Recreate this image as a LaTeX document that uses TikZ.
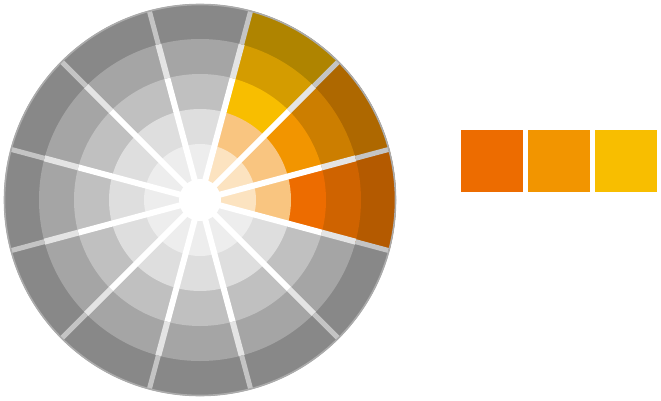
\documentclass[tikz,border=0pt]{standalone}
\usetikzlibrary{calc}
\definecolor{gA}{HTML}{EDEDED}
\definecolor{gB}{HTML}{DEDEDE}
\definecolor{gC}{HTML}{C0C0C0}
\definecolor{gD}{HTML}{A5A5A5}
\definecolor{gE}{HTML}{888888}
\definecolor{pA}{HTML}{FCE3C0}
\definecolor{pB}{HTML}{F9C580}
\definecolor{oC}{HTML}{ED6C00}
\definecolor{oD}{HTML}{CF6300}
\definecolor{oE}{HTML}{B45A00}
\definecolor{mC}{HTML}{F29500}
\definecolor{mD}{HTML}{CC7E00}
\definecolor{mE}{HTML}{AE6800}
\definecolor{yC}{HTML}{F8BE00}
\definecolor{yD}{HTML}{D49C00}
\definecolor{yE}{HTML}{AF8400}
\definecolor{sepB}{HTML}{E4E4E4}
\definecolor{sepC}{HTML}{C4C4C4}
\definecolor{rimc}{HTML}{ABABAB}
\tikzset{
  sepwhite/.style={draw=white,line width=6pt},
  sepmid/.style={draw=sepB,line width=6pt},
  sepout/.style={draw=sepC,line width=5pt},
  rim/.style={draw=rimc,line width=1.6pt},
  sq/.style={minimum size=62pt,inner sep=0pt,outer sep=0pt,draw=none}
}
\begin{document}
\begin{tikzpicture}[x=1pt,y=1pt]
\useasboundingbox (0,0) rectangle (661,400);
\coordinate (c) at (200,200);
% grey rings
\foreach \r/\col in {196/gE,161/gD,126/gC,91/gB,56/gA}{
  \fill[\col] (c) circle[radius=\r];
}
% coloured sectors
\foreach \a/\cE/\cD/\cC in {0/oE/oD/oC,30/mE/mD/mC,60/yE/yD/yC}{
  \fill[\cE] (c) -- ++(\a-15:196) arc[start angle=\a-15,end angle=\a+15,radius=196] -- cycle;
  \fill[\cD] (c) -- ++(\a-15:161) arc[start angle=\a-15,end angle=\a+15,radius=161] -- cycle;
  \fill[\cC] (c) -- ++(\a-15:126) arc[start angle=\a-15,end angle=\a+15,radius=126] -- cycle;
  \fill[pB] (c) -- ++(\a-15:91) arc[start angle=\a-15,end angle=\a+15,radius=91] -- cycle;
  \fill[pA] (c) -- ++(\a-15:56) arc[start angle=\a-15,end angle=\a+15,radius=56] -- cycle;
}
% separators
\foreach \a in {15,45,...,345}{
  \draw[sepwhite] (c) -- ($(c)+(\a:126)$);
  \draw[sepmid] ($(c)+(\a:126)$) -- ($(c)+(\a:161)$);
  \draw[sepout] ($(c)+(\a:161)$) -- ($(c)+(\a:195)$);
}
\fill[white] (c) circle[radius=21];
\draw[rim] (c) circle[radius=195.5];
% swatches
\node[sq,fill=oC] (s1) at (492,239) {};
\node[sq,fill=mC] (s2) at (559,239) {};
\node[sq,fill=yC] (s3) at (625.5,239) {};
\end{tikzpicture}
\end{document}
